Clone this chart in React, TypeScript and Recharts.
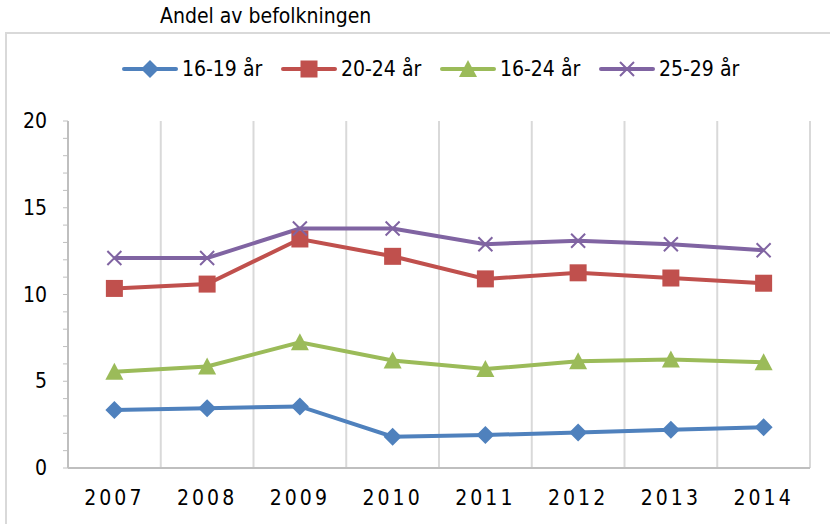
import React from 'react';
import { LineChart, Line, XAxis, YAxis, ReferenceLine } from 'recharts';

// Andel av befolkningen, per år
const years = [2007, 2008, 2009, 2010, 2011, 2012, 2013, 2014];
const age1619 = [3.35, 3.45, 3.55, 1.8, 1.9, 2.05, 2.2, 2.35];
const age2024 = [10.35, 10.6, 13.2, 12.2, 10.9, 11.25, 10.95, 10.65];
const age1624 = [5.55, 5.85, 7.25, 6.2, 5.7, 6.15, 6.25, 6.1];
const age2529 = [12.1, 12.1, 13.8, 13.8, 12.9, 13.1, 12.9, 12.55];

const data = years.map((year, i) => ({
  year,
  a: age1619[i],
  b: age2024[i],
  c: age1624[i],
  d: age2529[i],
}));

const FONT = '"DejaVu Sans", sans-serif';

const series = [
  { key: 'a', name: '16-19 år', color: '#4F81BD', shape: 'diamond' },
  { key: 'b', name: '20-24 år', color: '#C0504D', shape: 'square' },
  { key: 'c', name: '16-24 år', color: '#9BBB59', shape: 'triangle' },
  { key: 'd', name: '25-29 år', color: '#8064A2', shape: 'cross' },
];

const Marker = ({ shape, color, cx, cy }: { shape: string; color: string; cx: number; cy: number }) => {
  if (shape === 'diamond') {
    return <path d={`M${cx},${cy - 9}L${cx + 9},${cy}L${cx},${cy + 9}L${cx - 9},${cy}Z`} fill={color} />;
  }
  if (shape === 'square') {
    return <rect x={cx - 8.5} y={cy - 8.5} width={17} height={17} fill={color} />;
  }
  if (shape === 'triangle') {
    return <path d={`M${cx},${cy - 9}L${cx + 9},${cy + 8}L${cx - 9},${cy + 8}Z`} fill={color} />;
  }
  return (
    <path
      d={`M${cx - 7},${cy - 7}L${cx + 7},${cy + 7}M${cx - 7},${cy + 7}L${cx + 7},${cy - 7}`}
      stroke={color}
      strokeWidth={2}
      fill="none"
    />
  );
};

const makeDot = (shape: string, color: string) => (props: any) => {
  const { cx, cy, index } = props;
  if (cx == null || cy == null) return <g key={index} />;
  return <Marker key={index} shape={shape} color={color} cx={cx} cy={cy} />;
};

const textStyle: React.CSSProperties = {
  fontFamily: FONT,
  fontStretch: 'condensed',
  fontSize: 21,
  color: '#000',
};

const YTick = (props: any) => {
  const { x, y, payload } = props;
  if (payload.value % 5 !== 0) return <g />;
  return (
    <text x={x - 14} y={y} dy={7} textAnchor="end" fontFamily={FONT} fontSize={21} fill="#000" style={{ fontStretch: 'condensed' }}>
      {payload.value}
    </text>
  );
};

export default function App() {
  return (
    <div style={{ position: 'absolute', left: 0, top: 0, width: 830, height: 524, background: '#fff', overflow: 'hidden' }}>
      <div style={{ position: 'absolute', left: 160, top: 4, ...textStyle }}>Andel av befolkningen</div>
      <div style={{ position: 'absolute', left: 5, top: 32, width: 840, height: 520, border: '2px solid #D9D9D9' }} />
      {series.map((s, i) => (
        <div
          key={s.key}
          style={{ position: 'absolute', left: 122 + i * 159, top: 57, display: 'flex', alignItems: 'center', ...textStyle }}
        >
          <svg width={56} height={24}>
            <line x1={2} y1={12} x2={54} y2={12} stroke={s.color} strokeWidth={4} strokeLinecap="round" />
            <Marker shape={s.shape} color={s.color} cx={28} cy={12} />
          </svg>
          <span style={{ marginLeft: 4 }}>{s.name}</span>
        </div>
      ))}
      <div style={{ position: 'absolute', left: 0, top: 0 }}>
        <LineChart width={830} height={524} data={data} margin={{ top: 121, right: 20, left: 0, bottom: 0 }}>
          <XAxis
            dataKey="year"
            type="number"
            domain={[2006.5, 2014.5]}
            ticks={years}
            tickLine={false}
            axisLine={{ stroke: '#BFBFBF', strokeWidth: 2 }}
            height={56}
            tick={{ fontFamily: FONT, fontSize: 21, fill: '#000', letterSpacing: 3, style: { fontStretch: 'condensed' } } as any}
            tickMargin={16}
          />
          <YAxis
            domain={[0, 20]}
            ticks={Array.from({ length: 21 }, (_, i) => i)}
            interval={0}
            width={68}
            tickSize={5}
            tickLine={{ stroke: '#BFBFBF', strokeWidth: 1 }}
            axisLine={{ stroke: '#BFBFBF', strokeWidth: 2 }}
            tick={<YTick />}
          />
          {years.map((y) => (
            <ReferenceLine key={y} x={y + 0.5} stroke="#D9D9D9" strokeWidth={2} />
          ))}
          {series.map((s) => (
            <Line
              key={s.key}
              dataKey={s.key}
              name={s.name}
              stroke={s.color}
              strokeWidth={4}
              dot={makeDot(s.shape, s.color)}
              activeDot={false}
              isAnimationActive={false}
            />
          ))}
        </LineChart>
      </div>
    </div>
  );
}
